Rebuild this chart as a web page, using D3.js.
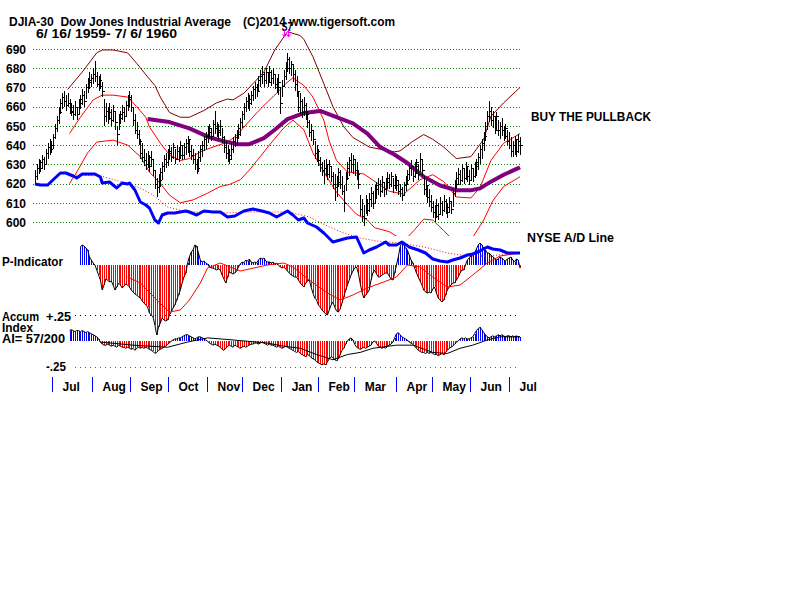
<!DOCTYPE html>
<html><head><meta charset="utf-8">
<script src="https://cdn.jsdelivr.net/npm/d3@7"></script>
<style>
body{margin:0;background:#fff}
svg{display:block;background:#fff}
text{font-family:"Liberation Sans",Arial,sans-serif;font-weight:bold;fill:#000}
</style>
</head><body>
<svg id="c" width="800" height="600"></svg>
<script>
// ---------- DATA ----------
const highs=[627,630,633,632,635,634,638,641,643,642,646,651,655,660,664,667,668,666,667,664,
662,661,663,660,664,666,669,668,672,675,678,677,680,684,678,676,677,673,664,662,
660,662,659,661,658,650,656,658,661,660,663,666,668,666,660,656,652,648,643,641,
638,636,637,635,637,633,627,623,625,628,631,635,636,638,640,639,641,638,640,639,
642,640,641,643,645,643,640,638,636,633,637,640,642,645,647,650,651,649,653,658,
652,651,653,649,645,642,640,638,641,644,646,648,651,654,658,662,665,667,666,668,
671,673,672,676,679,681,678,680,678,681,679,680,677,675,677,670,674,679,683,688,
686,684,682,679,676,668,667,664,665,662,658,653,651,648,642,640,638,634,631,632,
633,630,632,629,626,625,624,628,627,624,619,626,631,634,636,635,633,631,627,614,
612,609,614,612,615,618,616,619,621,623,622,624,621,623,626,625,626,623,625,624,
622,620,618,621,624,627,630,632,629,631,633,630,636,632,624,622,619,617,614,611,
609,612,610,613,611,614,612,610,613,611,617,622,626,628,627,630,628,631,629,627,
630,628,631,633,636,640,643,647,652,658,663,660,658,655,657,653,652,654,650,651,
648,647,644,642,645,643,646,644];
const lows=[619,622,625,626,628,627,630,633,635,636,638,643,647,651,656,659,660,658,660,656,
655,653,655,653,656,659,661,660,664,667,669,670,672,673,670,668,669,665,650,652,
651,653,650,652,648,640,648,651,653,652,655,658,660,657,650,646,643,640,633,631,
629,627,628,626,629,624,617,613,615,618,622,626,628,629,632,631,633,630,632,631,
633,632,633,635,636,634,632,630,627,625,626,631,634,637,638,641,643,642,644,646,
644,643,645,641,636,633,631,630,632,636,639,640,643,645,649,653,657,659,658,661,
663,664,665,668,670,672,670,672,670,673,671,672,669,667,666,656,665,670,674,678,
677,676,673,668,665,657,656,654,655,653,649,644,642,640,633,631,629,626,624,620,
624,622,623,621,617,611,613,618,617,614,605,616,622,624,626,625,624,622,617,603,
600,598,604,603,605,608,607,610,612,614,613,615,613,614,617,617,618,615,617,616,
614,613,611,614,616,619,622,624,621,623,625,622,626,624,614,613,610,608,605,602,
600,602,601,604,603,605,604,602,605,604,608,613,617,619,619,621,620,622,621,619,
622,621,623,624,627,630,633,637,642,648,652,650,649,646,648,645,643,645,642,643,
640,638,634,634,635,634,636,635];
const closes=[624,628,631,628,633,630,636,639,638,640,644,649,653,657,662,665,663,661,662,658,
657,656,660,656,662,664,666,663,670,673,674,675,677,676,672,674,671,668,655,658,
654,657,653,658,652,646,654,656,657,655,661,664,665,660,653,648,646,642,636,634,
632,630,634,629,633,627,620,618,622,626,629,633,631,636,637,634,639,633,637,635,
640,635,639,641,643,637,635,633,630,628,634,638,640,643,645,647,649,645,651,649,
647,648,650,644,639,636,633,635,638,642,644,646,649,652,656,660,663,664,662,666,
669,670,668,674,676,677,674,678,673,678,675,677,672,670,673,662,671,676,680,685,
680,682,677,672,668,660,663,657,661,656,652,647,648,643,636,637,632,630,627,628,
630,625,629,624,620,618,621,626,620,616,610,623,628,632,630,633,627,625,620,607,
603,602,610,606,612,615,610,617,619,620,616,621,617,621,623,620,624,619,622,619,
616,617,614,619,622,625,628,629,624,629,631,625,633,627,617,619,613,611,608,605,
603,609,604,610,606,611,608,605,611,607,615,620,623,625,622,628,623,629,624,622,
628,624,629,631,634,638,641,645,650,655,658,653,655,648,655,648,650,648,645,649,
642,640,637,640,643,637,642,640];

const priceTicks=[600,610,620,630,640,650,660,670,680,690];
const monthLabels=["Jul","Aug","Sep","Oct","Nov","Dec","Jan","Feb","Mar","Apr","May","Jun","Jul"];
const monthTickDays=[9.4,31.4,52.3,73.2,94.7,114,135.5,155.8,175.7,198.8,218.6,239.5,261];

// upper band (dark red), middle band (red), lower band (red), long moving average (purple)
const upperDays=[18,26,34,37,43,51,56,62,66,69,74,80,85,93,100,106,109,115,120,126,132,139,146,148,153,159,164,170,175,184,192,198,201,208,214,219,225,232,240,247,251,258,267];
const upperValues=[669,678,688,689.5,689.5,688,682.5,675.5,671,665,657,654.5,654.5,658,662,664,663.5,667,672,678,689.5,699,697,695,686,672,660,649.5,644,639,637.5,636.5,637,642,645.5,643,639,633,634,643,655,662,670];
const midDays=[19,25,32,37,43,51,56,61,63,69,74,80,85,91,98,106,111,117,122,128,132,138,142,148,153,159,162,166,172,181,188,195,203,212,219,225,232,240,245,251,258,267];
const midValues=[646,654.5,663.5,666,666,665,660,654.5,649.5,641,635,632,633,636.5,639,641.6,645,651.5,656.7,662.5,666,672,675,671,665,653,642,632,626,625,620.5,616,614.5,622,624.6,621,613,612.5,618,632,641,646];
const lowerDays=[19,23,29,34,43,51,58,63,69,74,80,87,95,102,107,113,118,124,129,137,142,148,153,159,166,172,177,183,187,195,200,204,209,214,219,225,233,241,247,252,258,267];
const lowerValues=[620,626,636,641.6,642.6,640,634,626,620,614,610,611.5,615,618.5,619.5,622,627,634,640,649,653,648,636,626,615.5,609,604,601,597,595,592,591,596,601.5,601,595.5,588,592,601,611,618.5,623.5];
const maDays=[62,74,85,96,104,111,118,126,132,139,148,157,166,175,183,190,198,205,214,223,232,240,245,251,258,266,267];
const maValues=[653.6,652,648.7,644,642,640.5,640.5,643.6,648,653.5,656.7,657.8,654.5,651.3,646,639,635,630.7,623.5,619,616.5,616.5,617.5,621,624.6,628,628.5];

// NYSE advance/decline line (index units) and its moving average
const adDays=[0,3,7,11,14,17,21,23,26,33,36,37,41,45,48,51,52,55,58,61,63,66,68,70,73,77,83,85,89,93,98,102,106,110,115,120,125,129,133,139,142,145,148,150,155,159,164,168,172,177,181,184,188,193,195,199,202,206,211,215,219,223,227,230,234,238,241,245,249,252,256,260,263,267];
const adValues=[81,80,80,87,92,92,89,87,91,91,88,82,83,77,82,81,82,75,63,60,57,45,42,50,52,52,54,53,50,54,53,53,48,49,54,56,54,52,48,54,50,45,47,42,38,32,23,25,27,28,12,15,18,23,20,20,23,18,15,12,6,4,3,5,7,10,11,14,18,16,15,12,12,12];
const adMaDays=[21,36,48,58,65,73,84,91,105,118,129,140,151,162,170,179,188,201,214,227,238,251,263,267];
const adMaValues=[90,89,83,77,70,58,53,53,52,53,53,53,48,38,32,27,24,22,18,12,9,9,12,12];

// P-Indicator (daily, starts at day 25) and its moving average
const pStart=25;
const pValues=[18,20,19,17,15,8,5,2,0,-5,
-10,-15,-25,-20,-14,-15,-17,-16,-20,-25,
-22,-18,-20,-23,-21,-19,-20,-22,-25,-27,
-29,-30,-32,-33,-36,-38,-40,-42,-48,-50,
-52,-60,-70,-62,-58,-53,-55,-56,-55,-50,
-47,-43,-40,-35,-30,-25,-18,-12,-8,2,
8,13,15,20,19,12,5,3,4,2,
1,-2,-3,-3,-4,-5,-4,-5,-10,-14,
-18,-12,-7,-8,-9,-8,-6,-2,1,3,
2,5,4,6,3,2,3,2,5,7,
6,7,4,3,3,2,3,1,2,0,
-2,-3,-2,-4,-6,-8,-10,-11,-12,-12,
-15,-18,-20,-22,-18,-16,-15,-22,-28,-33,
-35,-40,-42,-45,-47,-49,-50,-45,-40,-37,
-42,-46,-47,-44,-38,-32,-25,-20,-15,-10,
-6,-3,-2,-8,-18,-27,-33,-30,-28,-25,
-15,-8,-5,-9,-12,-12,-10,-9,-8,-8,
-11,-14,-15,-8,0,8,18,23,20,17,
15,10,5,2,-3,-8,-12,-16,-20,-25,
-27,-28,-27,-28,-24,-22,-28,-33,-35,-37,
-35,-30,-25,-22,-20,-18,-18,-15,-12,-8,
-5,-5,0,5,7,9,10,12,16,20,
22,20,17,15,12,12,10,8,7,5,
6,8,7,5,4,6,7,8,5,3,
6,5,-3];
const pMaDays=[51,58,67,74,80,85,91,95,102,113,128,137,142,151,161,168,175,183,192,199,205,212,219,227,234,241,249,256,267];
const pMaValues=[-12,-18,-35,-47,-45,-35,-18,-3,2,-6,0,2,-2,-15,-28,-35,-30,-23,-17,-12,0,-2,-12,-22,-20,-10,2,9,12];

// Accumulation Index (hundredths, daily, starts at day 19) and its moving average
const aiStart=19;
const aiValues=[10,11,10,9,10,10,9,10,9,8,9,8,7,6,5,
4,2,-1,
-3,-4,-4,-3,-4,-5,-4,-5,-6,-4,-5,-6,
-6,-7,-6,-7,-8,-7,-9,-7,-6,-7,-6,-7,
-6,-7,-8,-9,-10,-12,-11,-9,-8,-7,
-6,-5,-3,-2,0,1,2,2,3,3,
4,5,6,6,5,4,3,2,3,4,
4,3,2,1,0,-2,-3,-4,-3,-4,
-5,-6,-8,-9,-7,-5,-4,-5,-6,-4,
-5,-6,-7,-6,-5,-6,-5,-4,-3,-3,
-2,-2,-3,-2,-1,-2,-3,-4,-3,-4,
-4,-5,-6,-5,-6,-7,-6,-5,-6,-7,
-8,-9,-10,-11,-10,-12,-13,-14,-15,-13,
-14,-16,-17,-18,-20,-21,-22,-23,-22,-23,
-20,-17,-15,-16,-18,-19,-17,-13,-9,-7,
-3,0,2,3,1,-3,-6,-7,-8,-7,
-6,-7,-6,-5,-4,-1,0,-2,-5,-6,
-7,-6,-7,-5,-4,-3,-1,3,7,8,
6,4,3,2,1,-1,-2,-3,-5,-7,
-9,-10,-11,-11,-12,-11,-12,-11,-12,-13,
-13,-14,-13,-12,-13,-11,-9,-7,-6,-5,
-3,-1,0,2,3,2,3,2,2,3,
4,7,10,12,13,11,8,6,4,3,
4,5,4,5,6,5,6,5,4,5,
5,4,5,4,5,4,4];
const aiMaDays=[36,54,73,84,95,109,128,137,146,155,164,172,179,186,199,208,219,227,234,241,249,256,267];
const aiMaValues=[-1,-4,-6,-1,3,1,-2,-5,-7,-13,-18,-13,-11,-7,-4,-4,-11,-12,-7,-4,1,4,4];
const aiLevels=[25,-25];

// ---------- DRAWING ----------
const svg=d3.select("#c");
const x=d3.scaleLinear().domain([0,267]).range([35,520]);
const yPrice=d3.scaleLinear().domain([600,690]).range([222,49]);
const yAD=d3.scaleLinear().domain([0,100]).range([265,165]);
const yP=d3.scaleLinear().domain([0,20]).range([265,245]);
const yAI=d3.scaleLinear().domain([-25,25]).range([367,315]);
const px=d=>Math.round(x(d))+0.5;

svg.append("defs").append("clipPath").attr("id","pclip")
  .append("rect").attr("x",30).attr("y",20).attr("width",495).attr("height",216);

// Titles
function label(t,xx,yy,len,size){
  const e=svg.append("text").attr("x",xx).attr("y",yy).attr("font-size",size||12)
    .attr("xml:space","preserve").style("white-space","pre").text(t);
  if(len) e.attr("textLength",len).attr("lengthAdjust","spacingAndGlyphs");
  return e;
}
label("DJIA-30  Dow Jones Industrial Average",9,26,222);
label("(C)2014 www.tigersoft.com",243,26,152);
label("6/ 16/ 1959- 7/ 6/ 1960",36,38,141);

// grid
svg.append("g").selectAll("line").data(priceTicks).join("line")
  .attr("x1",33).attr("x2",520)
  .attr("y1",d=>Math.round(yPrice(d))+0.5).attr("y2",d=>Math.round(yPrice(d))+0.5)
  .attr("stroke","#008000").attr("stroke-dasharray","1,2");

// price axis labels
const ya=svg.append("g").attr("transform","translate(29,0)")
  .call(d3.axisLeft(yPrice).tickValues(priceTicks).tickSize(0).tickPadding(3).tickFormat(d3.format("d")));
ya.select(".domain").remove();
ya.selectAll("text").attr("font-size",12).attr("font-family",null).attr("dy","0.36em")
  .style("font-family",'"Liberation Sans",Arial,sans-serif').style("font-weight","bold");

const line=(xs,ys,yS)=>d3.line().x((d,i)=>x(xs[i])).y((d,i)=>yS(ys[i]))(ys);

// bands
const bands=svg.append("g").attr("clip-path","url(#pclip)").attr("fill","none");
bands.append("path").attr("d",line(upperDays,upperValues,yPrice)).attr("stroke","#800000").attr("stroke-width",1);
bands.append("path").attr("d",line(midDays,midValues,yPrice)).attr("stroke","#ff0000").attr("stroke-width",1);
bands.append("path").attr("d",line(lowerDays,lowerValues,yPrice)).attr("stroke","#ff0000").attr("stroke-width",1);
bands.append("path").attr("d",line(maDays,maValues,yPrice)).attr("stroke","#800080").attr("stroke-width",4).attr("stroke-linejoin","round");

// price bars
const bars=svg.append("g").attr("stroke","#000").attr("shape-rendering","crispEdges");
bars.selectAll("line.hl").data(highs).join("line").attr("class","hl")
  .attr("x1",(d,i)=>px(i)).attr("x2",(d,i)=>px(i))
  .attr("y1",d=>yPrice(d)).attr("y2",(d,i)=>yPrice(lows[i]));
bars.selectAll("line.cl").data(closes).join("line").attr("class","cl")
  .attr("x1",(d,i)=>px(i)-1).attr("x2",(d,i)=>px(i)+2)
  .attr("y1",d=>Math.round(yPrice(d))+0.5).attr("y2",d=>Math.round(yPrice(d))+0.5);

// P-Indicator histogram
const pg=svg.append("g").attr("shape-rendering","crispEdges");
pg.selectAll("line").data(pValues).join("line")
  .attr("x1",(d,i)=>px(pStart+i)).attr("x2",(d,i)=>px(pStart+i))
  .attr("y1",yP(0)).attr("y2",d=>yP(d))
  .attr("stroke",d=>d>=0?"#0000ff":"#ff0000");
svg.append("path").attr("fill","none").attr("stroke","#000").attr("stroke-width",1)
  .attr("d",d3.line().x((d,i)=>x(pStart+i)).y(d=>yP(d))(pValues));
svg.append("path").attr("fill","none").attr("stroke","#ff0000").attr("stroke-width",1)
  .attr("d",line(pMaDays,pMaValues,yP));

// A/D line and its MA
svg.append("path").attr("fill","none").attr("stroke","#ff0000").attr("stroke-width",1).attr("stroke-dasharray","1,2")
  .attr("d",line(adMaDays,adMaValues,yAD));
svg.append("path").attr("fill","none").attr("stroke","#0000ff").attr("stroke-width",3).attr("stroke-linejoin","round")
  .attr("d",line(adDays,adValues,yAD));

// Accumulation index
svg.append("g").selectAll("line").data(aiLevels).join("line")
  .attr("x1",75).attr("x2",520).attr("y1",d=>Math.round(yAI(d))+0.5).attr("y2",d=>Math.round(yAI(d))+0.5)
  .attr("stroke",d=>d>0?"#000":"#c03060").attr("stroke-dasharray","1,4");
const ag=svg.append("g").attr("shape-rendering","crispEdges");
ag.selectAll("line").data(aiValues).join("line")
  .attr("x1",(d,i)=>px(aiStart+i)).attr("x2",(d,i)=>px(aiStart+i))
  .attr("y1",yAI(0)).attr("y2",d=>yAI(d))
  .attr("stroke",d=>d>=0?"#0000ff":"#ff0000");
svg.append("path").attr("fill","none").attr("stroke","#000").attr("stroke-width",1)
  .attr("d",d3.line().x((d,i)=>x(aiStart+i)).y(d=>yAI(d))(aiValues.map((v,i)=>v)).replace(/^M[^L]*/,m=>m));
svg.append("path").attr("fill","none").attr("stroke","#000").attr("stroke-width",1)
  .attr("d",line(aiMaDays,aiMaValues,yAI));

// month axis
const ma=svg.append("g").attr("transform","translate(0,377)")
  .call(d3.axisBottom(x).tickValues(monthTickDays).tickSize(15).tickFormat((d,i)=>monthLabels[i]));
ma.select(".domain").remove();
ma.selectAll(".tick line").attr("stroke","#0000ff").attr("shape-rendering","crispEdges");
ma.selectAll(".tick text").attr("text-anchor","start").attr("x",10).attr("y",14).attr("dy",0)
  .attr("font-size",12).style("font-family",'"Liberation Sans",Arial,sans-serif').style("font-weight","bold");

// side labels
label("P-Indicator",2,266,61);
label("Accum",2,321,37);
label("+.25",46,321,25);
label("Index",2,332,31);
label("AI= 57/200",2,343,63);
label("-.25",46,371,20);
label("BUY THE PULLBACK",531,121,120);
label("NYSE A/D Line",527,242,87);

// S7 sell signal at the top
const sx=x(139);
label("S7",sx-6,31,11);
const arr=svg.append("g").attr("stroke","#ff00ff").attr("fill","none").attr("stroke-width",1);
[-3,1].forEach(o=>{
  arr.append("path").attr("d",`M${sx+o},29 L${sx+o},37 M${sx+o-2},34 L${sx+o},37 L${sx+o+2},34`);
});
</script>
</body></html>
